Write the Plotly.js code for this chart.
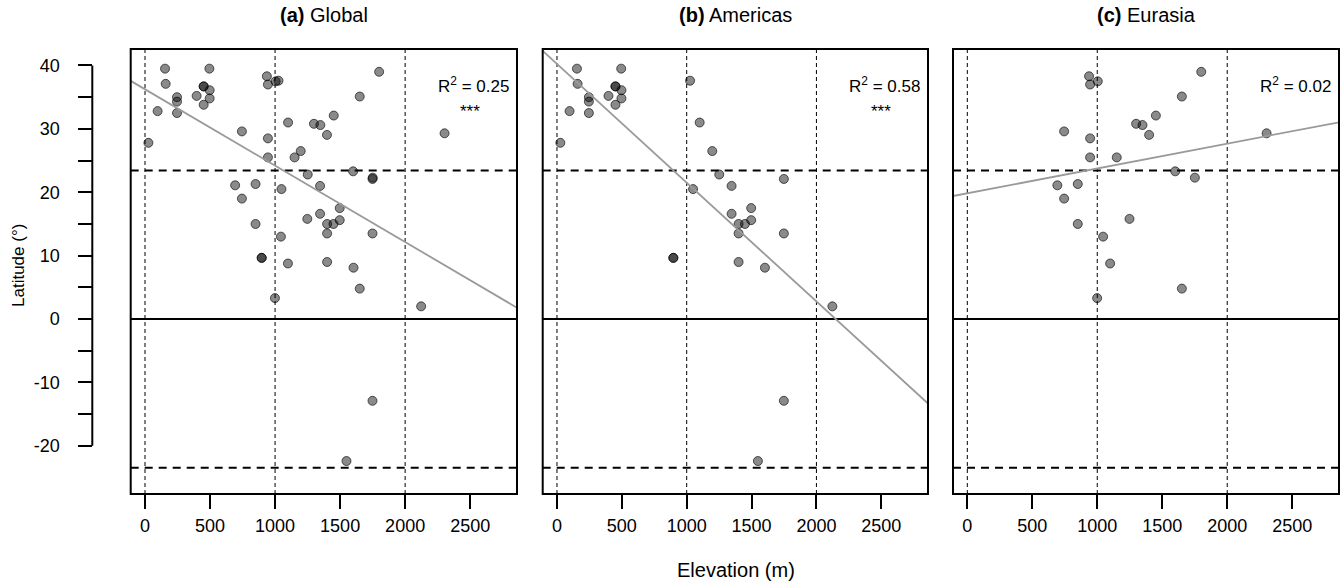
<!DOCTYPE html>
<html>
<head>
<meta charset="utf-8">
<script src="https://cdn.plot.ly/plotly-3.0.1.min.js"></script>
<style>html,body{margin:0;padding:0;background:#fff;}#chart{width:1344px;height:583px;}</style>
</head>
<body>
<div id="chart"></div>
<script>
// ---- data ----
const americasElev = [154, 495, 159, 451, 451, 497, 246, 246, 397, 497, 451, 97, 246, 26, 1026, 1100, 1197, 1251, 1749, 1049, 1346, 1497, 1346, 1400, 1449, 1497, 1400, 1749, 897, 897, 1400, 1603, 2123, 1749, 1549];
const americasLat  = [39.5, 39.5, 37.1, 36.7, 36.7, 36.1, 35.0, 34.3, 35.2, 34.8, 33.8, 32.8, 32.5, 27.8, 37.6, 31.0, 26.5, 22.8, 22.1, 20.5, 21.0, 17.5, 16.6, 15.0, 15.0, 15.6, 13.5, 13.5, 9.65, 9.65, 9.0, 8.1, 2.0, -12.9, -22.4];
const eurasiaElev  = [937, 945, 1004, 1800, 1651, 1451, 1299, 1348, 1399, 745, 945, 2303, 945, 1150, 1600, 1751, 693, 850, 745, 1248, 850, 1045, 1099, 1651, 999];
const eurasiaLat   = [38.3, 37.0, 37.5, 39.0, 35.1, 32.1, 30.8, 30.6, 29.05, 29.6, 28.5, 29.3, 25.5, 25.5, 23.3, 22.3, 21.1, 21.3, 19.0, 15.8, 15.0, 13.0, 8.76, 4.8, 3.3];
const globalElev = americasElev.concat(eurasiaElev);
const globalLat  = americasLat.concat(eurasiaLat);

const panelLetters = ['(a)', '(b)', '(c)'];
const panelNames   = ['Global', 'Americas', 'Eurasia'];
const fitIntercept = [36.25, 40.24, 19.84];
const fitSlope     = [-0.01205, -0.01873, 0.003917];
const r2Labels     = ['0.25', '0.58', '0.02'];
const sigLabels    = ['***', '***', ''];

const elevRefs   = [0, 1000, 2000];
const tropicLats = [23.44, -23.44];
const equatorLat = [0];

const xTickVals = [0, 500, 1000, 1500, 2000, 2500];
const yTickVals = [-20, -15, -10, -5, 0, 5, 10, 15, 20, 25, 30, 35, 40];
const yTickText = ['-20', '', '-10', '', '0', '', '10', '', '20', '', '30', '', '40'];

// ---- layout geometry ----
const W = 1344, H = 583;
const xRange = [-110, 2860];
const yRange = [-27.6, 42.6];
const px = v => v / W;
const py = v => 1 - v / H;
const domains = [[px(130.7), px(517)], [px(542.7), px(928)], [px(953), px(1339)]];
const yDomain = [py(494), py(49)];
const FONT = 'Liberation Sans, Arial, Helvetica, sans-serif';

const panelX = [globalElev, americasElev, eurasiaElev];
const panelY = [globalLat, americasLat, eurasiaLat];

const traces = [];
const shapes = [];
const annotations = [];
const layout = {
  width: W, height: H,
  margin: {l: 0, r: 0, t: 0, b: 0},
  paper_bgcolor: '#ffffff',
  plot_bgcolor: 'rgba(0,0,0,0)',
  showlegend: false,
  font: {family: FONT, color: '#000', size: 18}
};

for (let i = 0; i < 3; i++) {
  const sfx = i === 0 ? '' : String(i + 1);
  const xa = 'x' + sfx, ya = 'y' + sfx;

  traces.push({
    type: 'scatter', mode: 'markers', xaxis: xa, yaxis: ya,
    x: panelX[i], y: panelY[i],
    marker: {size: 9, color: 'rgba(0,0,0,0.46)', line: {color: 'rgba(0,0,0,0.62)', width: 1}},
    hoverinfo: 'x+y'
  });
  traces.push({
    type: 'scatter', mode: 'lines', xaxis: xa, yaxis: ya,
    x: xRange, y: xRange.map(v => fitIntercept[i] + fitSlope[i] * v),
    line: {color: '#9a9a9a', width: 1.8}, hoverinfo: 'skip'
  });

  layout['xaxis' + sfx] = {
    domain: domains[i], anchor: ya, range: xRange,
    showgrid: false, zeroline: false, showline: false,
    ticks: 'outside', ticklen: 14, tickwidth: 2, tickcolor: '#000',
    tickvals: xTickVals, ticktext: xTickVals.map(String),
    ticklabelstandoff: 1,
    tickfont: {family: FONT, size: 18, color: '#000'}
  };
  if (i === 0) {
    layout.yaxis = {
      domain: yDomain, anchor: 'free', position: px(92.3), side: 'left', range: yRange,
      showgrid: false, zeroline: false, showline: false,
      ticks: 'outside', ticklen: 14, tickwidth: 2, tickcolor: '#000',
      tickvals: yTickVals, ticktext: yTickText,
      ticklabelstandoff: 15,
      tickfont: {family: FONT, size: 18, color: '#000'}
    };
    shapes.push({type: 'line', xref: 'paper', yref: 'y', x0: px(92.3), x1: px(92.3), y0: -20, y1: 40,
      line: {color: '#000', width: 2}});
  } else {
    layout['yaxis' + sfx] = {
      domain: yDomain, anchor: xa, range: yRange,
      showgrid: false, zeroline: false, showline: false, showticklabels: false, ticks: ''
    };
  }

  // reference lines
  elevRefs.forEach(e => shapes.push({type: 'line', xref: xa, yref: ya + ' domain', x0: e, x1: e, y0: 0, y1: 1,
    layer: 'below', line: {color: '#000', width: 1, dash: '4px,3px'}}));
  tropicLats.forEach(l => shapes.push({type: 'line', xref: xa + ' domain', yref: ya, x0: 0, x1: 1, y0: l, y1: l,
    layer: 'below', line: {color: '#000', width: 2, dash: '8px,6px'}}));
  equatorLat.forEach(l => shapes.push({type: 'line', xref: xa + ' domain', yref: ya, x0: 0, x1: 1, y0: l, y1: l,
    layer: 'below', line: {color: '#000', width: 2}}));
  // box
  shapes.push({type: 'rect', xref: xa + ' domain', yref: ya + ' domain', x0: 0, x1: 1, y0: 0, y1: 1,
    line: {color: '#000', width: 2}, fillcolor: 'rgba(0,0,0,0)'});

  // titles
  annotations.push({xref: 'paper', yref: 'paper', x: (domains[i][0] + domains[i][1]) / 2, y: py(15),
    xanchor: 'center', yanchor: 'middle', showarrow: false,
    text: '<b>' + panelLetters[i] + '</b> ' + panelNames[i], font: {family: FONT, size: 20, color: '#000'}});
  // R^2
  annotations.push({xref: xa + ' domain', yref: 'paper', x: 0.984, y: py(85),
    xanchor: 'right', yanchor: 'middle', showarrow: false,
    text: 'R<sup>2</sup> = ' + r2Labels[i], font: {family: FONT, size: 17, color: '#000'}});
  if (sigLabels[i]) {
    annotations.push({xref: xa + ' domain', yref: 'paper', x: 0.878, y: py(111),
      xanchor: 'center', yanchor: 'middle', showarrow: false,
      text: sigLabels[i], font: {family: FONT, size: 17, color: '#000'}});
  }
}

annotations.push({xref: 'paper', yref: 'paper', x: px(736), y: py(570), xanchor: 'center', yanchor: 'middle',
  showarrow: false, text: 'Elevation (m)', font: {family: FONT, size: 20, color: '#000'}});
annotations.push({xref: 'paper', yref: 'paper', x: px(18), y: py(266), xanchor: 'center', yanchor: 'middle',
  textangle: -90, showarrow: false, text: 'Latitude (°)', font: {family: FONT, size: 17, color: '#000'}});

layout.shapes = shapes;
layout.annotations = annotations;

Plotly.newPlot('chart', traces, layout, {displayModeBar: false, staticPlot: true});
</script>
</body>
</html>
